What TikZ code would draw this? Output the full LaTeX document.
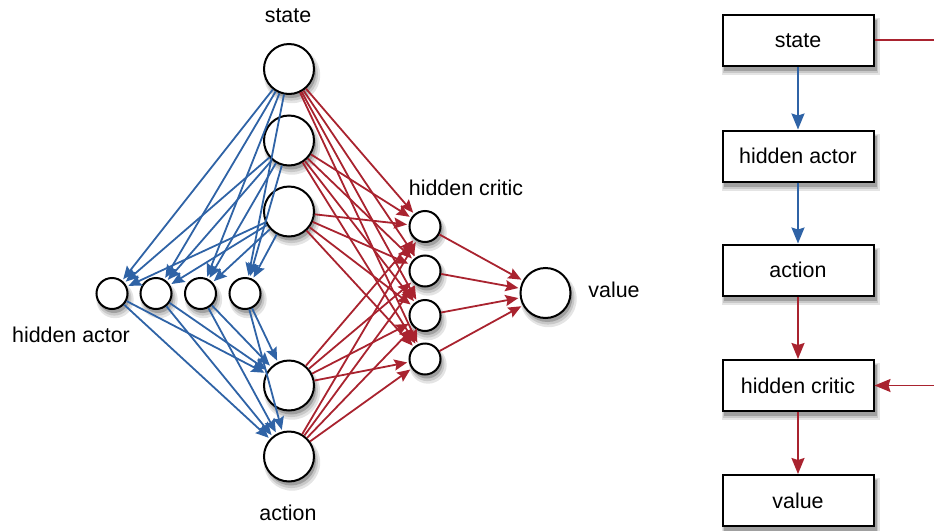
\documentclass[tikz,border=0pt]{standalone}
\usepackage{fontspec}
\setmainfont{Liberation Sans}
\usetikzlibrary{arrows.meta, positioning}
\definecolor{nnBlue}{HTML}{2F63A6}
\definecolor{nnRed}{HTML}{A9232F}
\definecolor{shadeLight}{HTML}{E4E4E4}
\definecolor{shadeMid}{HTML}{C8C8C8}
\definecolor{shadeDark}{HTML}{A0A0A0}
\tikzset{
  actorarrow/.style  = {-{Stealth[length=6.5pt, width=5.5pt, inset=1pt]}, line width=0.9pt, nnBlue, shorten >=0.8pt},
  criticarrow/.style = {-{Stealth[length=6.5pt, width=5.5pt, inset=1pt]}, line width=0.9pt, nnRed, shorten >=0.8pt},
  flowarrow/.style   = {-{Stealth[length=8pt, width=6.5pt, inset=1pt]}, line width=0.9pt},
  neuron/.style      = {circle, draw, line width=1pt, fill=white, inner sep=0pt},
  bigneuron/.style   = {neuron, minimum size=25pt},
  smallneuron/.style = {neuron, minimum size=15.5pt},
  lbl/.style         = {font=\fontsize{10.7}{13}\selectfont},
  blockbox/.style    = {draw, line width=1pt, fill=white, minimum width=75.5pt, minimum height=25.5pt,
                        inner sep=0pt, lbl},
}
% soft shadow under a circle of radius #3 (pt) at (#1,#2)
\newcommand{\roundshadow}[3]{%
  \fill[shadeLight] (#1,#2) ++(1.5pt,-3pt) circle[radius=#3pt+1.6pt];
  \fill[shadeMid]   (#1,#2) ++(1.2pt,-2.5pt) circle[radius=#3pt+0.8pt];
  \fill[shadeDark]  (#1,#2) ++(1pt,-2pt) circle[radius=#3pt];
}
% soft shadow under a box centred at (#1,#2)
\newcommand{\boxshadow}[2]{%
  \fill[shadeLight] (#1,#2) ++(-37.9pt,-17.4pt) rectangle ++(79pt,28.5pt);
  \fill[shadeMid]   (#1,#2) ++(-37.6pt,-16.4pt) rectangle ++(77.8pt,27pt);
  \fill[shadeDark]  (#1,#2) ++(-37.2pt,-15.4pt) rectangle ++(76.6pt,25.6pt);
}

\begin{document}
\begin{tikzpicture}[x=0.5pt, y=-0.5pt]
\useasboundingbox (0,0) rectangle (934,531);

% ---- network: state, hidden actor, action, hidden critic, value ----------
\foreach \i/\y in {1/69, 2/140.5, 3/211.5} {
  \roundshadow{289}{\y}{12.5}
  \node[bigneuron] (s\i) at (289,\y) {};
}
\foreach \i/\y in {1/385.5, 2/456.5} {
  \roundshadow{289}{\y}{12.5}
  \node[bigneuron] (a\i) at (289,\y) {};
}
\foreach \i/\x in {1/112, 2/156, 3/200.5, 4/245} {
  \roundshadow{\x}{293.5}{7.75}
  \node[smallneuron] (ha\i) at (\x,293.5) {};
}
\foreach \i/\y in {1/226.5, 2/271, 3/315.5, 4/359} {
  \roundshadow{425}{\y}{7.75}
  \node[smallneuron] (hc\i) at (425,\y) {};
}
\roundshadow{545.5}{293}{12.5}
\node[bigneuron] (v) at (545.5,293) {};

\node[lbl] (lstate)  at (288,16)  {state};
\node[lbl] (laction) at (288,513) {action};
\node[lbl] (lactor)  at (71,335)  {hidden actor};
\node[lbl] (lcritic) at (466,188) {hidden critic};
\node[lbl] (lvalue)  at (614,290) {value};

% actor path
\foreach \i in {1,2,3} {
  \foreach \j in {1,2,3,4} {
    \draw[actorarrow] (s\i) -- (ha\j);
  }
}
\foreach \j in {1,2,3,4} {
  \foreach \k in {1,2} {
    \draw[actorarrow] (ha\j) -- (a\k);
  }
}

% critic path
\foreach \i in {1,2,3} {
  \foreach \j in {1,2,3,4} {
    \draw[criticarrow] (s\i) -- (hc\j);
  }
}
\foreach \k in {1,2} {
  \foreach \j in {1,2,3,4} {
    \draw[criticarrow] (a\k) -- (hc\j);
  }
}
\foreach \j in {1,2,3,4} {
  \draw[criticarrow] (hc\j) -- (v);
}

% ---- block view ----------------------------------------------------------
\foreach \n/\y/\t in {bstate/40.5/state, bactor/156/hidden actor, baction/270/action,
                      bcritic/385.5/hidden critic, bvalue/500.5/value} {
  \boxshadow{798}{\y}
  \node[blockbox] (\n) at (798,\y) {\t};
}

\coordinate (outR) at (934,40);
\coordinate (inR)  at (934,385.5);

\draw[flowarrow, nnBlue] (bstate) -- (bactor);
\draw[flowarrow, nnBlue] (bactor) -- (baction);
\draw[flowarrow, nnRed]  (baction) -- (bcritic);
\draw[flowarrow, nnRed]  (bcritic) -- (bvalue);
\draw[line width=0.9pt, nnRed] (bstate.east |- outR) -- (outR);
\draw[flowarrow, nnRed] (inR) -- (bcritic.east);

\end{tikzpicture}
\end{document}
